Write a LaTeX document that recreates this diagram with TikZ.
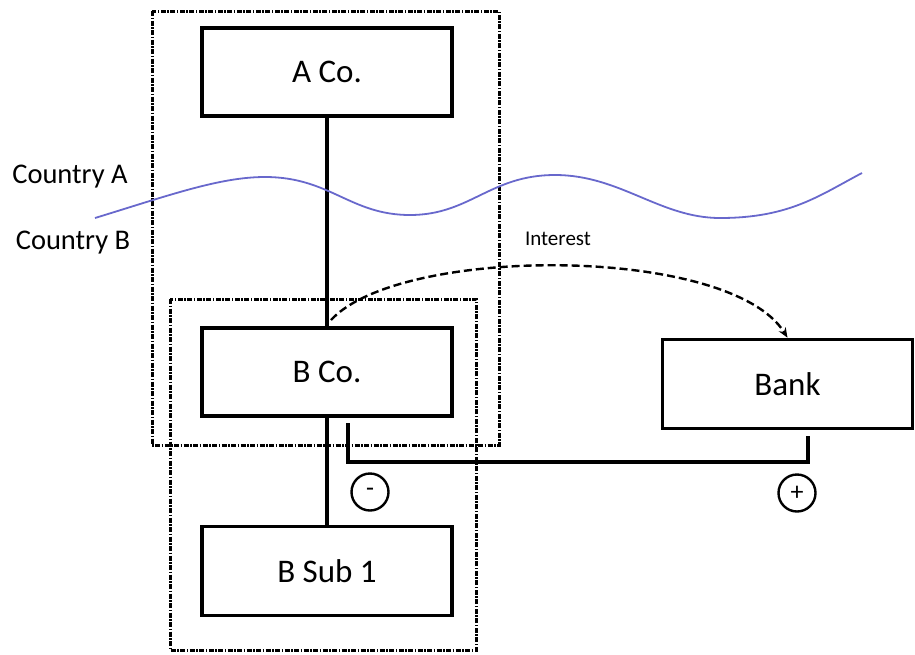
\documentclass[tikz,border=0pt]{standalone}
\usepackage{fontspec}
\setmainfont{Carlito}
\usetikzlibrary{arrows.meta}
\definecolor{wave}{RGB}{104,104,204}
\begin{document}
\begin{tikzpicture}[x=1pt,y=-1pt,
  box/.style={draw,line width=3.6pt,rectangle,minimum width=250pt,minimum height=88pt,inner sep=0pt,font=\fontsize{33}{36}\selectfont},
  grp/.style={draw,line width=3pt,dash pattern=on 5pt off 1.5pt on 1.5pt off 1.5pt},
  link/.style={line width=3.4pt},
  flow/.style={line width=4.5pt},
  sign/.style={draw,circle,line width=2.4pt,minimum size=37pt,inner sep=0pt,font=\fontsize{26}{28}\selectfont},
  lbl/.style={inner sep=0pt,font=\fontsize{28.5}{30}\selectfont}]
\useasboundingbox (0,0) rectangle (915,654);
% group frames
\draw[grp] (152,11) rectangle (499,445);
\draw[grp] (170,299) rectangle (476,650);
% boxes
\node[box] (aco) at (327,72) {A Co.};
\node[box] (bco) at (327,372) {B Co.};
\node[box,minimum height=89pt] (bsub) at (327,571) {B Sub 1};
\node[box,minimum height=89pt] (bank) at (787.5,384) {Bank};
% ownership lines
\draw[link] (aco.south) -- (bco.north);
\draw[link] (bco.south) -- (bsub.north);
% border line
\draw[wave,line width=1.8pt] (95,218) .. controls (170,195) and (220,177) .. (265,177)
  .. controls (330,177) and (350,215) .. (410,215)
  .. controls (470,215) and (490,175) .. (555,175)
  .. controls (620,175) and (660,218) .. (720,218)
  .. controls (790,218) and (820,195) .. (862,173);
\node[lbl] (ca) at (70,177) {Country A};
\node[lbl] (cb) at (73,243) {Country B};
% interest flow
\coordinate (is) at (331,320);
\draw[line width=2.4pt,dash pattern=on 8pt off 4pt,-{Stealth[length=10pt,width=8pt]}]
  (is) .. controls (400,245) and (730,245) .. (bank.north);
\node[inner sep=0pt,font=\fontsize{21}{23}\selectfont] (int) at (558,239) {Interest};
% netting line
\coordinate (m1) at (348,423);
\coordinate (m2) at (808,436);
\coordinate (mc) at (600,462);
\draw[flow] (m1) |- (mc) -| (m2);
\node[sign] (minus) at (370,492) {-};
\node[sign] (plus) at (797,493) {+};
\end{tikzpicture}
\end{document}
